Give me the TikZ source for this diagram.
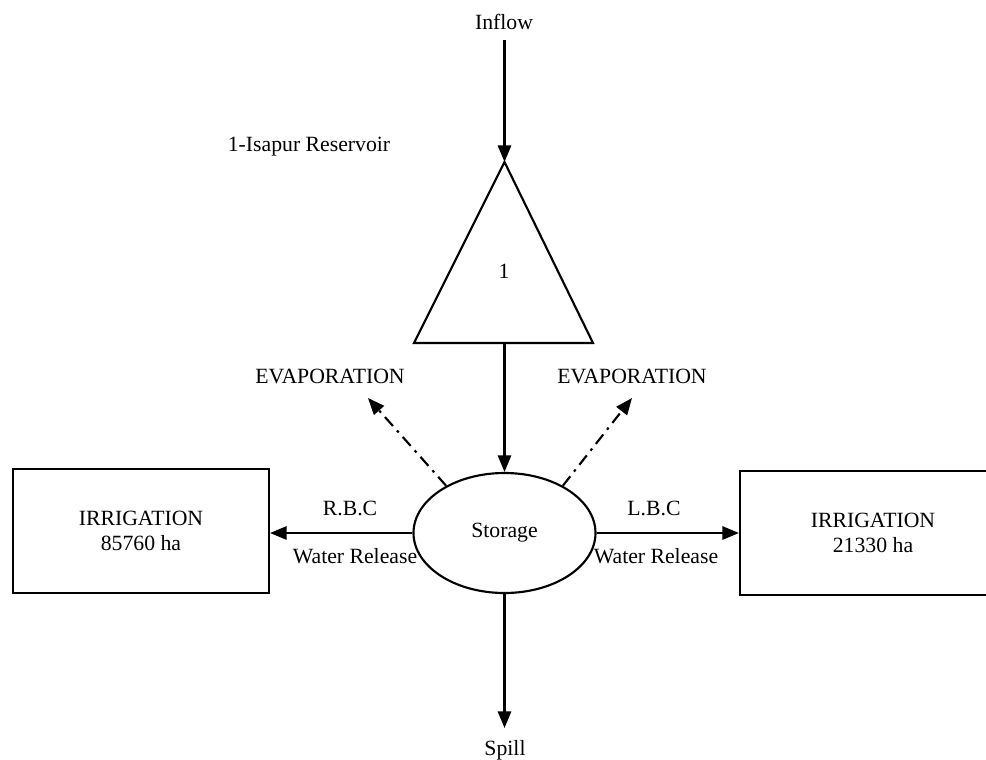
\documentclass[tikz,border=0pt]{standalone}
\usepackage{fontspec}
\setmainfont{Liberation Serif}
\usetikzlibrary{shapes.geometric,arrows.meta}
\begin{document}
\begin{tikzpicture}[x=0.75pt,y=-0.75pt,
  font=\fontsize{16.3}{19}\selectfont,
  line width=1.6pt,
  flow/.style={-{Triangle[length=12.5pt,width=10pt]}},
  evap/.style={flow,dash pattern=on 9pt off 4.5pt on 2pt off 4.5pt},
  lbl/.style={anchor=base,inner sep=0pt},
  irr/.style={draw,minimum height=93pt,align=center,inner sep=0pt}]
\clip (0,0) rectangle (986,760);
\useasboundingbox (0,0) rectangle (986,760);
\fill[white] (0,0) rectangle (986,760);
% texts
\node[lbl] (inflow) at (504,29) {Inflow};
\node[lbl] (isapur) at (309,151) {1-Isapur Reservoir};
\node[lbl] (evl) at (330,383) {EVAPORATION};
\node[lbl] (evr) at (632,383) {EVAPORATION};
\node[lbl] (rbc) at (350,515) {R.B.C};
\node[lbl] (lbc) at (654,515) {L.B.C};
\node[lbl] (wrl) at (355,563) {Water Release};
\node[lbl] (wrr) at (656,563) {Water Release};
\node[lbl] (spill) at (505,755) {Spill};
% reservoir triangle
\coordinate (apex) at (504.5,162);
\coordinate (bl) at (414,343);
\coordinate (br) at (593,343);
\coordinate (bm) at (504.5,343);
\draw[line join=miter] (apex) -- (br) -- (bl) -- cycle;
\node[lbl] (one) at (504,278) {1};
% storage
\node[draw,ellipse,minimum width=136.5pt,minimum height=90pt,inner sep=0pt] (st) at (504.5,533) {Storage};
% irrigation boxes
\node[irr,minimum width=192pt] (irl) at (141,531) {IRRIGATION\\85760 ha};
\node[irr,minimum width=199.5pt] (irrt) at (873,533) {IRRIGATION\\21330 ha};
% connectors
\coordinate (inS) at (504.5,40);
\coordinate (evlE) at (368,398);
\coordinate (evrE) at (632,398);
\coordinate (spE) at (504.5,728);
\draw[flow] (inS) -- (apex);
\draw[flow] (bm) -- (st.north);
\draw[flow] (st.west) -- (st.west -| irl.east);
\draw[flow] (st.east) -- (st.east -| irrt.west);
\draw[flow] (st.south) -- (spE);
\draw[evap] (st.141) -- (evlE);
\draw[evap] (st.39) -- (evrE);
\end{tikzpicture}
\end{document}
